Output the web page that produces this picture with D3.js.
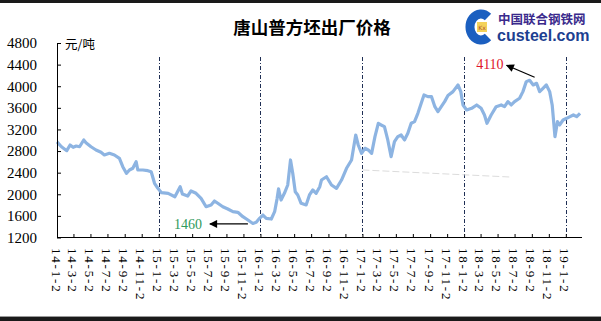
<!DOCTYPE html>
<html>
<head>
<meta charset="utf-8">
<script src="https://cdn.jsdelivr.net/npm/d3@7"></script>
<style>
  body { margin: 0; background: #fff; }
  svg { display: block; }
</style>
</head>
<body>
<svg width="601" height="321"></svg>
<script>
// weekly-ish samples
var dates = [
  "2014-01-02","2014-01-18","2014-02-06","2014-02-18","2014-03-01","2014-03-12","2014-03-24","2014-04-08",
  "2014-04-16","2014-05-04","2014-05-22","2014-06-09","2014-06-21","2014-07-09","2014-07-27","2014-08-14",
  "2014-08-26","2014-09-08","2014-09-19","2014-10-01","2014-10-13","2014-10-19","2014-11-06","2014-11-24",
  "2014-12-06","2014-12-18","2014-12-30","2015-01-12","2015-02-05","2015-03-01","2015-03-20","2015-03-28",
  "2015-04-16","2015-04-28","2015-05-16","2015-06-03","2015-06-21","2015-07-09","2015-07-21","2015-08-02",
  "2015-08-20","2015-09-07","2015-09-25","2015-10-13","2015-10-31","2015-11-18","2015-12-06","2015-12-18",
  "2015-12-30","2016-01-11","2016-01-23","2016-02-10","2016-02-22","2016-03-02","2016-03-07","2016-03-16",
  "2016-03-28","2016-04-09","2016-04-19","2016-04-27","2016-05-06","2016-05-15","2016-05-27","2016-06-14",
  "2016-06-26","2016-07-08","2016-07-20","2016-08-02","2016-08-08","2016-08-26","2016-09-13","2016-10-01",
  "2016-10-19","2016-11-06","2016-11-24","2016-12-09","2016-12-18","2016-12-30","2017-01-11","2017-01-23",
  "2017-02-04","2017-02-16","2017-02-28","2017-03-10","2017-03-22","2017-04-03","2017-04-15","2017-04-27",
  "2017-05-09","2017-05-21","2017-06-02","2017-06-14","2017-06-26","2017-07-08","2017-07-20","2017-08-01",
  "2017-08-11","2017-08-25","2017-09-07","2017-09-19","2017-09-30","2017-10-12","2017-10-24","2017-11-05",
  "2017-11-23","2017-12-11","2017-12-21","2017-12-29","2018-01-11","2018-01-29","2018-02-16","2018-03-04",
  "2018-03-16","2018-03-25","2018-04-09","2018-04-27","2018-05-15","2018-05-27","2018-06-08","2018-06-20",
  "2018-07-02","2018-07-20","2018-08-01","2018-08-13","2018-08-25","2018-09-07","2018-09-19","2018-09-30",
  "2018-10-12","2018-10-24","2018-11-05","2018-11-14","2018-11-24","2018-12-03","2018-12-11","2018-12-23",
  "2019-01-05","2019-01-17","2019-01-29","2019-02-10","2019-02-22"
];

var prices = [
  2970, 2880, 2807, 2912, 2870, 2894, 2880, 3005,
  2955, 2880, 2820, 2777, 2727, 2758, 2727, 2666,
  2511, 2388, 2449, 2481, 2603, 2449, 2449, 2437,
  2418, 2203, 2110, 2030, 2018, 1955, 2140, 2005,
  1968, 2061, 2018, 1925, 1770, 1802, 1876, 1833,
  1770, 1728, 1678, 1666, 1585, 1524, 1460, 1481,
  1555, 1616, 1555, 1542, 1678, 1925, 2100, 1894,
  2018, 2172, 2635, 2388, 2048, 1987, 1833, 1802,
  1987, 2079, 2018, 2140, 2264, 2325, 2172, 2110,
  2264, 2481, 2635, 3097, 2912, 2758, 2851, 2820,
  2758, 3066, 3314, 3283, 3251, 3005, 2696, 2973,
  3066, 3097, 3005, 3128, 3314, 3344, 3499, 3684,
  3838, 3807, 3807, 3622, 3530, 3622, 3715, 3830,
  3900, 4023, 3900, 3653, 3560, 3591, 3653, 3591,
  3468, 3314, 3468, 3622, 3653, 3622, 3715, 3653,
  3715, 3777, 3900, 4085, 4110, 4023, 4054, 3900,
  3961, 4023, 3900, 3653, 3066, 3344, 3283, 3375,
  3406, 3437, 3468, 3437, 3499
];

var tickLabels = [
  "14-1-2","14-3-2","14-5-2","14-7-2","14-9-2","14-11-2",
  "15-1-2","15-3-2","15-5-2","15-7-2","15-9-2","15-11-2",
  "16-1-2","16-3-2","16-5-2","16-7-2","16-9-2","16-11-2",
  "17-1-2","17-3-2","17-5-2","17-7-2","17-9-2","17-11-2",
  "18-1-2","18-3-2","18-5-2","18-7-2","18-9-2","18-11-2",
  "19-1-2"
];

var yTicks = [1200, 1600, 2000, 2400, 2800, 3200, 3600, 4000, 4400, 4800];

var trendDates = ["2017-01-02", "2018-06-14"];
var trendValues = [2450, 2320];

var maxDate = "2018-08-25", maxValue = 4110;
var minDate = "2015-12-06", minValue = 1460;

var parseDate = d3.timeParse("%Y-%m-%d");

function labelToDate(s) {
  var p = s.split("-");
  return new Date(2000 + (+p[0]), +p[1] - 1, +p[2]);
}

var data = dates.map(function(d, i) {
  return { date: parseDate(d), value: prices[i] };
});

var svg = d3.select("svg");

var scaleX = d3.scaleTime()
                .domain([new Date(2014, 0, 2), new Date(2019, 2, 1)])
                .range([57, 582]);

var scaleY = d3.scaleLinear()
                .domain([1200, 4800])
                .range([237.5, 43]);

// frame lines top and bottom
svg.append("rect").attr("x", 0).attr("y", 0).attr("width", 601).attr("height", 3).attr("fill", "#1a1a1a");
svg.append("rect").attr("x", 0).attr("y", 316).attr("width", 601).attr("height", 1).attr("fill", "#9a9a9a");
svg.append("rect").attr("x", 0).attr("y", 317).attr("width", 601).attr("height", 4).attr("fill", "#1a1a1a");

// title
svg.append("text")
    .attr("x", 312)
    .attr("y", 34)
    .attr("text-anchor", "middle")
    .style("font-family", "'Noto Sans CJK SC'")
    .style("font-weight", "bold")
    .style("font-size", "17.5px")
    .text("唐山普方坯出厂价格");

// unit
svg.append("text")
    .attr("x", 65)
    .attr("y", 49)
    .style("font-family", "'Noto Sans CJK SC'")
    .style("font-size", "12.5px")
    .text("元/吨");

// year separators
svg.selectAll(".yearLine")
    .data(tickLabels.filter(function(d, i) { return i > 0 && d.split("-")[1] == "1"; }))
    .enter()
    .append("line")
    .attr("class", "yearLine")
    .attr("x1", function(d) { return Math.round(scaleX(labelToDate(d))) + 0.5; })
    .attr("x2", function(d) { return Math.round(scaleX(labelToDate(d))) + 0.5; })
    .attr("y1", 57)
    .attr("y2", 237)
    .attr("stroke", "#1f2f55")
    .attr("stroke-width", 1)
    .attr("stroke-dasharray", "4,2,1,2");

// faint trend line
svg.append("line")
    .attr("x1", scaleX(parseDate(trendDates[0])))
    .attr("y1", scaleY(trendValues[0]))
    .attr("x2", scaleX(parseDate(trendDates[1])))
    .attr("y2", scaleY(trendValues[1]))
    .attr("stroke", "#dcdcdc")
    .attr("stroke-width", 1)
    .attr("stroke-dasharray", "7,3");

// price line
var line = d3.line()
    .x(function(d) { return scaleX(d.date); })
    .y(function(d) { return scaleY(d.value); });

svg.append("path")
    .datum(data)
    .attr("d", line)
    .attr("fill", "none")
    .attr("stroke", "#8db4e2")
    .attr("stroke-width", 3.2)
    .attr("stroke-linejoin", "round");

// axes
var yAxis = svg.append("g")
    .attr("transform", "translate(57,0)")
    .call(d3.axisLeft(scaleY)
        .tickValues(yTicks)
        .tickFormat(d3.format("d"))
        .tickSizeInner(-4)
        .tickSizeOuter(0)
        .tickPadding(20));

yAxis.selectAll("path, line").attr("stroke", "#000");
yAxis.selectAll("text")
    .style("font-family", "'Liberation Serif'")
    .style("font-size", "15px")
    .attr("fill", "#000");

var xAxis = svg.append("g")
    .attr("transform", "translate(0,237)")
    .call(d3.axisBottom(scaleX)
        .tickValues(tickLabels.map(labelToDate))
        .tickSizeInner(-3)
        .tickSizeOuter(0)
        .tickFormat(function(d, i) { return tickLabels[i]; }));

xAxis.select(".domain").attr("d", "M57,0.5H582");
xAxis.selectAll("path, line").attr("stroke", "#000");
xAxis.selectAll("text")
    .attr("transform", "rotate(90)")
    .attr("x", 11)
    .attr("y", 6)
    .attr("dy", "0")
    .attr("text-anchor", "start")
    .attr("fill", "#000")
    .style("font-family", "'Liberation Serif'")
    .style("font-size", "13px")
    .style("letter-spacing", "1.8px");

// annotations
svg.append("defs").append("marker")
    .attr("id", "arrow")
    .attr("viewBox", "0 0 10 10")
    .attr("refX", 9)
    .attr("refY", 5)
    .attr("markerUnits", "userSpaceOnUse")
    .attr("markerWidth", 10)
    .attr("markerHeight", 8)
    .attr("orient", "auto")
    .append("path")
    .attr("d", "M0,0L10,5L0,10Z")
    .attr("fill", "#000");

var px = scaleX(parseDate(maxDate)), py = scaleY(maxValue);
svg.append("line")
    .attr("x1", px + 5).attr("y1", py - 3)
    .attr("x2", px - 23).attr("y2", py - 15)
    .attr("stroke", "#000").attr("stroke-width", 1.2)
    .attr("marker-end", "url(#arrow)");
svg.append("text")
    .attr("x", px - 26).attr("y", py - 11)
    .attr("text-anchor", "end")
    .attr("fill", "#e0142a")
    .style("font-family", "'Liberation Serif'")
    .style("font-size", "14px")
    .text(maxValue);

var qx = scaleX(parseDate(minDate)), qy = scaleY(minValue);
svg.append("line")
    .attr("x1", qx - 5).attr("y1", qy + 0.5)
    .attr("x2", qx - 43).attr("y2", qy + 0.5)
    .attr("stroke", "#000").attr("stroke-width", 1.2)
    .attr("marker-end", "url(#arrow)");
svg.append("text")
    .attr("x", qx - 51).attr("y", qy + 5.5)
    .attr("text-anchor", "end")
    .attr("fill", "#2f9a5c")
    .style("font-family", "'Liberation Serif'")
    .style("font-size", "14px")
    .text(minValue);

// logo
var logo = svg.append("g").attr("transform", "translate(466,12)");
logo.append("path")
    .attr("d", "M22,5 A11,13 0 1 0 22,25")
    .attr("fill", "none")
    .attr("stroke", "#1b5fc0")
    .attr("stroke-width", 9);
logo.append("rect")
    .attr("x", 11).attr("y", 10).attr("width", 10).attr("height", 10)
    .attr("fill", "#f4d25a");
logo.append("text")
    .attr("x", 16).attr("y", 18)
    .attr("text-anchor", "middle")
    .attr("fill", "#b05030")
    .style("font-family", "'DejaVu Sans'")
    .style("font-size", "6px")
    .text("Kx");
logo.append("text")
    .attr("x", 32).attr("y", 12)
    .attr("fill", "#3a2a8c")
    .style("font-family", "'Noto Sans CJK SC'")
    .style("font-weight", "bold")
    .style("font-size", "12.5px")
    .text("中国联合钢铁网");
logo.append("text")
    .attr("x", 31).attr("y", 29)
    .attr("fill", "#1d3f91")
    .style("font-family", "'Liberation Sans'")
    .style("font-weight", "bold")
    .style("font-size", "16px")
    .text("custeel.com");
</script>
</body>
</html>
